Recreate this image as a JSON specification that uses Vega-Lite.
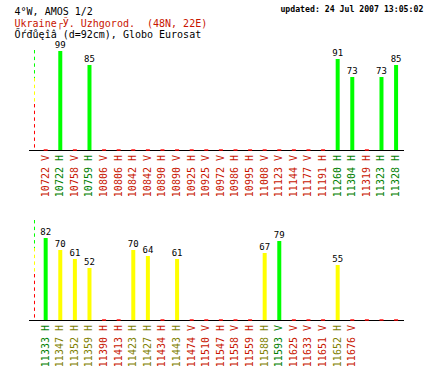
{
  "$schema": "https://vega.github.io/schema/vega-lite/v6.json",
  "background": "white",
  "padding": {"left": 14, "top": 5, "right": 0, "bottom": 0},
  "bounds": "flush",
  "spacing": 70,
  "config": {
    "view": {"stroke": null},
    "axis": {"disable": true},
    "legend": {"disable": true},
    "text": {"font": "DejaVu Sans Mono"}
  },
  "datasets": {
    "top": [
      {"slot": 0, "ch": "10722 V", "q": 0},
      {"slot": 1, "ch": "10722 H", "q": 99},
      {"slot": 2, "ch": "10758 V", "q": 0},
      {"slot": 3, "ch": "10759 H", "q": 85},
      {"slot": 4, "ch": "10806 V", "q": 0},
      {"slot": 5, "ch": "10806 H", "q": 0},
      {"slot": 6, "ch": "10842 H", "q": 0},
      {"slot": 7, "ch": "10842 V", "q": 0},
      {"slot": 8, "ch": "10890 H", "q": 0},
      {"slot": 9, "ch": "10890 V", "q": 0},
      {"slot": 10, "ch": "10925 H", "q": 0},
      {"slot": 11, "ch": "10925 V", "q": 0},
      {"slot": 12, "ch": "10972 V", "q": 0},
      {"slot": 13, "ch": "10986 H", "q": 0},
      {"slot": 14, "ch": "10995 H", "q": 0},
      {"slot": 15, "ch": "11008 V", "q": 0},
      {"slot": 16, "ch": "11123 V", "q": 0},
      {"slot": 17, "ch": "11144 V", "q": 0},
      {"slot": 18, "ch": "11177 V", "q": 0},
      {"slot": 19, "ch": "11191 H", "q": 0},
      {"slot": 20, "ch": "11260 H", "q": 91},
      {"slot": 21, "ch": "11304 H", "q": 73},
      {"slot": 22, "ch": "11319 H", "q": 0},
      {"slot": 23, "ch": "11323 H", "q": 73},
      {"slot": 24, "ch": "11328 H", "q": 85}
    ],
    "bottom": [
      {"slot": 0, "ch": "11333 H", "q": 82},
      {"slot": 1, "ch": "11347 H", "q": 70},
      {"slot": 2, "ch": "11352 H", "q": 61},
      {"slot": 3, "ch": "11359 H", "q": 52},
      {"slot": 4, "ch": "11390 H", "q": 0},
      {"slot": 5, "ch": "11413 H", "q": 0},
      {"slot": 6, "ch": "11423 H", "q": 70},
      {"slot": 7, "ch": "11427 H", "q": 64},
      {"slot": 8, "ch": "11434 H", "q": 0},
      {"slot": 9, "ch": "11443 H", "q": 61},
      {"slot": 10, "ch": "11474 V", "q": 0},
      {"slot": 11, "ch": "11510 V", "q": 0},
      {"slot": 12, "ch": "11547 H", "q": 0},
      {"slot": 13, "ch": "11558 V", "q": 0},
      {"slot": 14, "ch": "11559 H", "q": 0},
      {"slot": 15, "ch": "11588 H", "q": 67},
      {"slot": 16, "ch": "11593 V", "q": 79},
      {"slot": 17, "ch": "11625 V", "q": 0},
      {"slot": 18, "ch": "11633 V", "q": 0},
      {"slot": 19, "ch": "11651 V", "q": 0},
      {"slot": 20, "ch": "11652 H", "q": 55},
      {"slot": 21, "ch": "11676 V", "q": 0},
      {"slot": 22, "ch": "", "q": 0},
      {"slot": 23, "ch": "", "q": 0},
      {"slot": 24, "ch": "", "q": 0}
    ],
    "bands": [
      {"lo": 0, "hi": 46},
      {"lo": 46, "hi": 72},
      {"lo": 72, "hi": 100}
    ]
  },
  "vconcat": [
    {
      "width": 375,
      "height": 100,
      "data": {"name": "top"},
      "layer": [
        {
          "data": {"values": [{"t": "4°W, AMOS 1/2"}]},
          "mark": {"type": "text", "align": "left", "baseline": "alphabetic", "fontSize": 10, "color": "black"},
          "encoding": {
            "x": {"datum": -2.1333, "type": "quantitative", "scale": {"domain": [-0.8, 24.2], "nice": false, "zero": false}},
            "y": {"datum": 135, "type": "quantitative", "scale": {"domain": [0, 100], "nice": false}},
            "text": {"field": "t"}
          }
        },
        {
          "data": {"values": [{"t": "Ukraine┌Ў. Uzhgorod. \u00a0(48N, 22E)"}]},
          "mark": {"type": "text", "align": "left", "baseline": "alphabetic", "fontSize": 10, "color": "#c81400"},
          "encoding": {
            "x": {"datum": -2.1333, "type": "quantitative", "scale": {"domain": [-0.8, 24.2], "nice": false, "zero": false}},
            "y": {"datum": 123, "type": "quantitative", "scale": {"domain": [0, 100], "nice": false}},
            "text": {"field": "t"}
          }
        },
        {
          "data": {"values": [{"t": "Őŕđůęîâ (d=92cm), Globo Eurosat"}]},
          "mark": {"type": "text", "align": "left", "baseline": "alphabetic", "fontSize": 10, "color": "black"},
          "encoding": {
            "x": {"datum": -2.1333, "type": "quantitative", "scale": {"domain": [-0.8, 24.2], "nice": false, "zero": false}},
            "y": {"datum": 111.7, "type": "quantitative", "scale": {"domain": [0, 100], "nice": false}},
            "text": {"field": "t"}
          }
        },
        {
          "data": {"values": [{"t": "updated: 24 Jul 2007 13:05:02"}]},
          "mark": {"type": "text", "align": "right", "baseline": "alphabetic", "fontSize": 8.2, "fontWeight": "bold", "color": "black"},
          "encoding": {
            "x": {"datum": 25.867, "type": "quantitative", "scale": {"domain": [-0.8, 24.2], "nice": false, "zero": false}},
            "y": {"datum": 138, "type": "quantitative", "scale": {"domain": [0, 100], "nice": false}},
            "text": {"field": "t"}
          }
        },
        {
          "data": {"values": [{}]},
          "mark": {"type": "rule", "color": "black", "strokeWidth": 1},
          "encoding": {
            "y": {"datum": -0.5, "type": "quantitative", "scale": {"domain": [0, 100], "nice": false}}
          }
        },
        {
          "data": {"name": "bands"},
          "mark": {"type": "rule", "strokeWidth": 1, "strokeDash": [3.4, 3.3]},
          "encoding": {
            "x": {"datum": -0.7667, "type": "quantitative", "scale": {"domain": [-0.8, 24.2], "nice": false, "zero": false}},
            "y": {"field": "hi", "type": "quantitative", "scale": {"domain": [0, 100], "nice": false}},
            "y2": {"field": "lo"},
            "stroke": {"field": "lo", "type": "quantitative", "scale": {"type": "threshold", "domain": [46, 72], "range": ["#ff0000", "#ffff00", "#00ff00"]}}
          }
        },
        {
          "transform": [{"filter": "datum.q == 0"}],
          "mark": {"type": "tick", "orient": "horizontal", "size": 4, "thickness": 2, "color": "#ff0000"},
          "encoding": {
            "x": {"field": "slot", "type": "quantitative", "scale": {"domain": [-0.8, 24.2], "nice": false, "zero": false}},
            "y": {"datum": 0, "type": "quantitative", "scale": {"domain": [0, 100], "nice": false}}
          }
        },
        {
          "transform": [{"filter": "datum.q > 0"}],
          "mark": {"type": "bar", "width": 4},
          "encoding": {
            "x": {"field": "slot", "type": "quantitative", "scale": {"domain": [-0.8, 24.2], "nice": false, "zero": false}},
            "y": {"field": "q", "type": "quantitative", "scale": {"domain": [0, 100], "nice": false}},
            "color": {"field": "q", "type": "quantitative", "scale": {"type": "threshold", "domain": [46, 72], "range": ["#ff0000", "#ffff00", "#00ff00"]}}
          }
        },
        {
          "transform": [{"filter": "datum.q > 0"}],
          "mark": {"type": "text", "dy": -3, "baseline": "alphabetic", "fontSize": 9, "color": "black"},
          "encoding": {
            "x": {"field": "slot", "type": "quantitative", "scale": {"domain": [-0.8, 24.2], "nice": false, "zero": false}},
            "y": {"field": "q", "type": "quantitative", "scale": {"domain": [0, 100], "nice": false}},
            "text": {"field": "q"}
          }
        },
        {
          "mark": {"type": "text", "angle": 270, "align": "right", "baseline": "middle", "fontSize": 10},
          "encoding": {
            "x": {"field": "slot", "type": "quantitative", "scale": {"domain": [-0.8, 24.2], "nice": false, "zero": false}},
            "y": {"datum": -5, "type": "quantitative", "scale": {"domain": [0, 100], "nice": false}},
            "text": {"field": "ch"},
            "fill": {"field": "q", "type": "quantitative", "scale": {"type": "threshold", "domain": [46, 72], "range": ["#c81400", "#808000", "#008000"]}}
          }
        }
      ]
    },
    {
      "width": 375,
      "height": 100,
      "data": {"name": "bottom"},
      "layer": [
        {
          "data": {"values": [{}]},
          "mark": {"type": "rule", "color": "black", "strokeWidth": 1},
          "encoding": {
            "y": {"datum": -0.5, "type": "quantitative", "scale": {"domain": [0, 100], "nice": false}}
          }
        },
        {
          "data": {"name": "bands"},
          "mark": {"type": "rule", "strokeWidth": 1, "strokeDash": [3.4, 3.3]},
          "encoding": {
            "x": {"datum": -0.7667, "type": "quantitative", "scale": {"domain": [-0.8, 24.2], "nice": false, "zero": false}},
            "y": {"field": "hi", "type": "quantitative", "scale": {"domain": [0, 100], "nice": false}},
            "y2": {"field": "lo"},
            "stroke": {"field": "lo", "type": "quantitative", "scale": {"type": "threshold", "domain": [46, 72], "range": ["#ff0000", "#ffff00", "#00ff00"]}}
          }
        },
        {
          "transform": [{"filter": "datum.q == 0"}],
          "mark": {"type": "tick", "orient": "horizontal", "size": 4, "thickness": 2, "color": "#ff0000"},
          "encoding": {
            "x": {"field": "slot", "type": "quantitative", "scale": {"domain": [-0.8, 24.2], "nice": false, "zero": false}},
            "y": {"datum": 0, "type": "quantitative", "scale": {"domain": [0, 100], "nice": false}}
          }
        },
        {
          "transform": [{"filter": "datum.q > 0"}],
          "mark": {"type": "bar", "width": 4},
          "encoding": {
            "x": {"field": "slot", "type": "quantitative", "scale": {"domain": [-0.8, 24.2], "nice": false, "zero": false}},
            "y": {"field": "q", "type": "quantitative", "scale": {"domain": [0, 100], "nice": false}},
            "color": {"field": "q", "type": "quantitative", "scale": {"type": "threshold", "domain": [46, 72], "range": ["#ff0000", "#ffff00", "#00ff00"]}}
          }
        },
        {
          "transform": [{"filter": "datum.q > 0"}],
          "mark": {"type": "text", "dy": -3, "baseline": "alphabetic", "fontSize": 9, "color": "black"},
          "encoding": {
            "x": {"field": "slot", "type": "quantitative", "scale": {"domain": [-0.8, 24.2], "nice": false, "zero": false}},
            "y": {"field": "q", "type": "quantitative", "scale": {"domain": [0, 100], "nice": false}},
            "text": {"field": "q"}
          }
        },
        {
          "mark": {"type": "text", "angle": 270, "align": "right", "baseline": "middle", "fontSize": 10},
          "encoding": {
            "x": {"field": "slot", "type": "quantitative", "scale": {"domain": [-0.8, 24.2], "nice": false, "zero": false}},
            "y": {"datum": -5, "type": "quantitative", "scale": {"domain": [0, 100], "nice": false}},
            "text": {"field": "ch"},
            "fill": {"field": "q", "type": "quantitative", "scale": {"type": "threshold", "domain": [46, 72], "range": ["#c81400", "#808000", "#008000"]}}
          }
        }
      ]
    }
  ]
}
